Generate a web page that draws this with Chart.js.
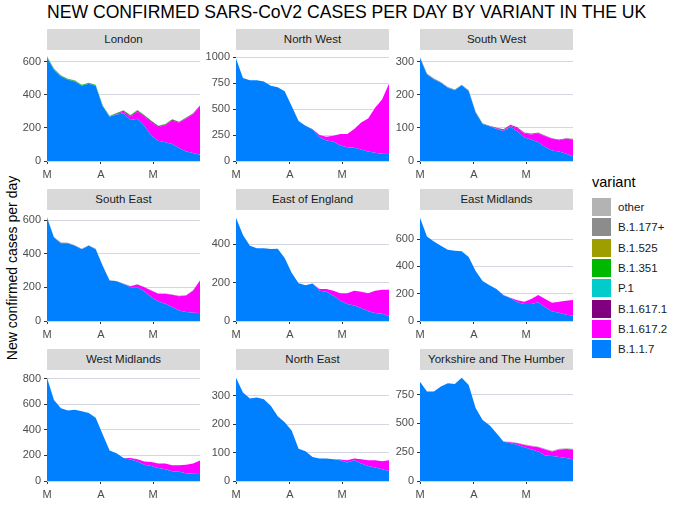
<!DOCTYPE html>
<html>
<head>
<meta charset="utf-8">
<script src="https://cdn.jsdelivr.net/npm/chart.js@4.4.0/dist/chart.umd.min.js"></script>
<style>
body { margin: 0; background: #fff; font-family: "Liberation Sans", Arial, sans-serif; }
#page { position: relative; width: 680px; height: 510px; overflow: hidden; }
#title { position: absolute; left: 47px; top: 2px; font-size: 17.6px; color: #000; white-space: nowrap; }
#ylab { position: absolute; left: 12px; top: 268px; font-size: 14px; color: #000; white-space: nowrap;
        transform: translate(-50%, -50%) rotate(-90deg); }
.strip { position: absolute; height: 21px; line-height: 21px; background: #d9d9d9; color: #1a1a1a;
         font-size: 11.5px; text-align: center; }
canvas { position: absolute; }
#legend { position: absolute; left: 592px; top: 174px; }
#legend .ltitle { font-size: 14.5px; color: #000; }
.key { position: absolute; left: 0; width: 19px; height: 18px; }
.klab { position: absolute; left: 26px; font-size: 11.5px; color: #1a1a1a; white-space: nowrap; line-height: 18px; }
</style>
</head>
<body>
<div id="page">
  <div id="title">NEW CONFIRMED SARS-CoV2 CASES PER DAY BY VARIANT IN THE UK</div>
  <div id="ylab">New confirmed cases per day</div>
  <div id="legend"><div class="ltitle">variant</div></div>
</div>
<script>
// days since 1 March
const days = [0, 4, 8, 12, 16, 20, 24, 28, 32, 36, 40, 44, 48, 52, 56, 60, 64, 68, 72, 76, 80, 84, 88];
const monthTicks = [0, 31, 61];
const monthLabels = ['M', 'A', 'M'];

const variants = ['other', 'B.1.177+', 'B.1.525', 'B.1.351', 'P.1', 'B.1.617.1', 'B.1.617.2', 'B.1.1.7'];
const variantColors = ['#b3b3b3', '#8c8c8c', '#9e9e00', '#00b800', '#00cccc', '#800080', '#ff00ff', '#0080ff'];

const londonB117  = [624, 551, 511, 491, 481, 455, 467, 455, 332, 268, 282, 288, 248, 256, 213, 153, 123, 113, 103, 78, 58, 48, 38];
const londonB6172 = [0, 0, 0, 0, 0, 0, 0, 0, 0, 0, 2, 10, 20, 42, 56, 82, 83, 103, 142, 153, 199, 235, 293];
const londonB6171 = [0, 0, 0, 0, 0, 0, 0, 0, 0, 0, 2, 4, 5, 5, 5, 5, 4, 4, 4, 3, 3, 3, 3];
const londonB1351 = [6, 6, 5, 5, 5, 5, 5, 5, 4, 4, 4, 4, 4, 4, 3, 3, 3, 3, 3, 3, 2, 2, 2];
const londonB177  = [4, 3, 3, 2, 2, 2, 1, 1, 1, 1, 1, 1, 1, 1, 1, 1, 1, 1, 1, 1, 1, 1, 1];

const nwB117  = [990, 800, 778, 778, 768, 727, 711, 673, 530, 387, 340, 305, 229, 197, 187, 149, 133, 127, 111, 92, 79, 70, 68];
const nwB6172 = [0, 0, 0, 0, 0, 0, 0, 0, 0, 0, 0, 3, 22, 38, 57, 111, 127, 181, 260, 318, 435, 524, 677];

const swB117  = [312, 262, 247, 237, 222, 214, 229, 212, 147, 112, 105, 97, 91, 104, 89, 71, 65, 57, 42, 32, 29, 22, 14];
const swB6172 = [0, 0, 0, 0, 0, 0, 0, 0, 0, 0, 0, 1, 2, 3, 10, 12, 15, 26, 33, 35, 34, 45, 51];
const swB6171 = [0, 0, 0, 0, 0, 0, 0, 0, 0, 0, 1, 2, 2, 2, 2, 2, 2, 2, 1, 1, 1, 1, 1];
const swB177  = [3, 3, 3, 2, 2, 2, 2, 2, 2, 2, 1, 1, 1, 1, 1, 1, 1, 1, 1, 1, 1, 1, 1];

const seB117  = [615, 497, 464, 464, 448, 428, 448, 428, 329, 241, 237, 221, 201, 201, 176, 142, 116, 103, 83, 63, 53, 49, 47];
const seB6172 = [0, 0, 0, 0, 0, 0, 0, 0, 0, 0, 0, 0, 6, 16, 25, 39, 46, 59, 73, 85, 99, 132, 194];
const seB177  = [5, 4, 4, 3, 3, 3, 3, 2, 2, 2, 2, 2, 2, 2, 2, 2, 2, 2, 2, 2, 2, 2, 2];

const eeB117  = [537, 448, 391, 379, 379, 374, 376, 328, 251, 197, 186, 195, 157, 152, 132, 106, 89, 80, 67, 51, 41, 38, 26];
const eeB6172 = [0, 0, 0, 0, 0, 0, 0, 0, 0, 0, 0, 0, 9, 14, 25, 39, 55, 77, 85, 94, 116, 124, 136];

const emB117  = [757, 619, 583, 552, 523, 516, 511, 470, 366, 294, 263, 234, 188, 166, 137, 125, 125, 137, 101, 70, 60, 46, 41];
const emB6172 = [0, 0, 0, 0, 0, 0, 0, 0, 0, 0, 0, 0, 2, 5, 15, 17, 36, 53, 60, 63, 82, 103, 113];

const wmB117  = [808, 634, 570, 552, 558, 545, 532, 494, 366, 238, 217, 179, 169, 153, 128, 118, 102, 92, 77, 72, 61, 56, 54];
const wmB6172 = [0, 0, 0, 0, 0, 0, 0, 0, 0, 0, 0, 0, 10, 18, 25, 30, 34, 44, 46, 51, 67, 80, 107];

const neB117  = [364, 312, 291, 294, 288, 265, 228, 207, 178, 114, 105, 85, 79, 79, 77, 73, 65, 73, 62, 53, 48, 41, 35];
const neB6172 = [0, 0, 0, 0, 0, 0, 0, 0, 0, 0, 0, 0, 0, 0, 0, 3, 8, 6, 15, 20, 25, 29, 38];

const yhB117  = [863, 778, 778, 821, 849, 843, 897, 835, 635, 530, 484, 416, 342, 330, 313, 293, 274, 256, 222, 217, 208, 199, 188];
const yhB6172 = [0, 0, 0, 0, 0, 0, 0, 0, 0, 0, 0, 0, 0, 6, 15, 20, 28, 37, 52, 39, 66, 80, 86];
const yhOther = [0, 0, 0, 0, 0, 0, 0, 0, 0, 0, 1, 2, 3, 4, 5, 6, 6, 6, 6, 6, 6, 6, 6];

const regionNames = ['London', 'North West', 'South West', 'South East', 'East of England', 'East Midlands',
                     'West Midlands', 'North East', 'Yorkshire and The Humber'];
const yMax  = [656, 1046, 328, 646, 564, 795, 848, 382, 942];
const yTicks = [
    [0, 200, 400, 600],
    [0, 250, 500, 750, 1000],
    [0, 100, 200, 300],
    [0, 200, 400, 600],
    [0, 200, 400],
    [0, 200, 400, 600],
    [0, 200, 400, 600, 800],
    [0, 100, 200, 300],
    [0, 250, 500, 750]
];
const regionSeries = [
    { 'B.1.1.7': londonB117, 'B.1.617.2': londonB6172, 'B.1.617.1': londonB6171, 'B.1.351': londonB1351, 'B.1.177+': londonB177 },
    { 'B.1.1.7': nwB117, 'B.1.617.2': nwB6172 },
    { 'B.1.1.7': swB117, 'B.1.617.2': swB6172, 'B.1.617.1': swB6171, 'B.1.177+': swB177 },
    { 'B.1.1.7': seB117, 'B.1.617.2': seB6172, 'B.1.177+': seB177 },
    { 'B.1.1.7': eeB117, 'B.1.617.2': eeB6172 },
    { 'B.1.1.7': emB117, 'B.1.617.2': emB6172 },
    { 'B.1.1.7': wmB117, 'B.1.617.2': wmB6172 },
    { 'B.1.1.7': neB117, 'B.1.617.2': neB6172 },
    { 'B.1.1.7': yhB117, 'B.1.617.2': yhB6172, 'other': yhOther }
];

const colLeft = [47, 236, 420];
const rowTop = [51, 211, 371];
const plotW = 153, plotH = 110;
const axisW = 42, axisH = 22, padTop = 8;

const page = document.getElementById('page');
const tickFont = { family: '"Liberation Sans", Arial, sans-serif', size: 11 };

regionNames.forEach((name, i) => {
    const left = colLeft[i % 3], top = rowTop[Math.floor(i / 3)];

    const strip = document.createElement('div');
    strip.className = 'strip';
    strip.style.left = left + 'px';
    strip.style.top = (top - 22) + 'px';
    strip.style.width = plotW + 'px';
    strip.textContent = name;
    page.appendChild(strip);

    const canvas = document.createElement('canvas');
    canvas.width = axisW + plotW;
    canvas.height = padTop + plotH + axisH;
    canvas.style.left = (left - axisW) + 'px';
    canvas.style.top = (top - padTop) + 'px';
    page.appendChild(canvas);

    const datasets = [];
    for (let v = variants.length - 1; v >= 0; v--) {
        const values = regionSeries[i][variants[v]];
        if (!values) continue;
        datasets.push({
            label: variants[v],
            data: days.map((d, k) => ({ x: d, y: values[k] })),
            backgroundColor: variantColors[v],
            borderWidth: 0,
            pointRadius: 0,
            tension: 0,
            fill: datasets.length === 0 ? 'origin' : '-1'
        });
    }

    new Chart(canvas, {
        type: 'line',
        data: { datasets: datasets },
        options: {
            responsive: false,
            animation: false,
            devicePixelRatio: 1,
            layout: { padding: { top: padTop, right: 0, bottom: 0, left: 0 } },
            plugins: { legend: { display: false }, tooltip: { enabled: false } },
            scales: {
                x: {
                    type: 'linear',
                    min: 0,
                    max: 88,
                    afterBuildTicks: s => { s.ticks = monthTicks.map(v => ({ value: v })); },
                    afterFit: s => { s.height = axisH; },
                    ticks: {
                        autoSkip: false, maxRotation: 0, padding: 4,
                        color: '#4d4d4d', font: tickFont,
                        callback: v => monthLabels[monthTicks.indexOf(v)]
                    },
                    grid: { drawOnChartArea: false, tickLength: 3, tickColor: '#333' },
                    border: { display: false }
                },
                y: {
                    stacked: true,
                    min: 0,
                    max: yMax[i],
                    afterBuildTicks: s => { s.ticks = yTicks[i].map(v => ({ value: v })); },
                    afterFit: s => { s.width = axisW; },
                    ticks: { autoSkip: false, padding: 3, color: '#4d4d4d', font: tickFont,
                             callback: v => String(v) },
                    grid: { color: '#d6d6e2', tickLength: 3, tickColor: '#333' },
                    border: { display: false }
                }
            }
        }
    });
});

// legend
const legend = document.getElementById('legend');
variants.forEach((v, i) => {
    const key = document.createElement('div');
    key.className = 'key';
    key.style.top = (24 + i * 20.3) + 'px';
    key.style.background = variantColors[i];
    legend.appendChild(key);
    const lab = document.createElement('div');
    lab.className = 'klab';
    lab.style.top = (24 + i * 20.3) + 'px';
    lab.textContent = v;
    legend.appendChild(lab);
});
</script>
</body>
</html>
